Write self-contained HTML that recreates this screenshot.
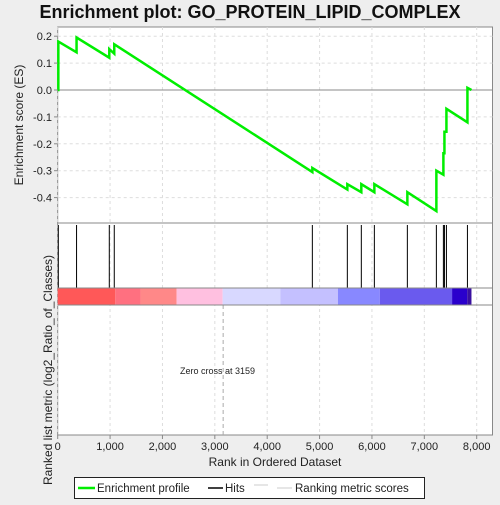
<!DOCTYPE html>
<html><head><meta charset="utf-8"><style>
body{margin:0;background:#eeeeee;font-family:"Liberation Sans",sans-serif}
svg text{font-family:"Liberation Sans",sans-serif}
</style></head><body>
<svg width="500" height="500">
<rect x="0" y="0" width="500" height="500" fill="#eeeeee"/>
<text x="250" y="18" text-anchor="middle" font-size="18" font-weight="bold" fill="#111">Enrichment plot: GO_PROTEIN_LIPID_COMPLEX</text>
<rect x="57.7" y="27" width="434.8" height="408" fill="#fff" stroke="#888"/>
<g id="grid"></g>
<g id="colorbar"></g>
<g id="hits"></g>
<g id="es"></g>
<g id="axes"></g>
<line x1="57.7" y1="223" x2="492.5" y2="223" stroke="#888"/>
<line x1="57.7" y1="288" x2="492.5" y2="288" stroke="#888"/>
<line x1="57.7" y1="305" x2="492.5" y2="305" stroke="#888"/>
<text x="180" y="374" font-size="9" fill="#222">Zero cross at 3159</text>
<text transform="translate(23,125) rotate(-90)" text-anchor="middle" font-size="12" fill="#222">Enrichment score (ES)</text>
<text transform="translate(52,370) rotate(-90)" text-anchor="middle" font-size="12" fill="#222">Ranked list metric (log2_Ratio_of_Classes)</text>
<text x="275" y="466" text-anchor="middle" font-size="12" fill="#222">Rank in Ordered Dataset</text>
<g>
<rect x="74.5" y="477.5" width="350" height="21" fill="#fff" stroke="#222"/>
<line x1="78" y1="488" x2="95" y2="488" stroke="#00ee00" stroke-width="2.5"/>
<text x="97" y="492" font-size="11.5" fill="#222">Enrichment profile</text>
<line x1="208" y1="488" x2="223" y2="488" stroke="#000" stroke-width="1.5"/>
<text x="225" y="492" font-size="11.5" fill="#222">Hits</text>
<line x1="254" y1="485" x2="268" y2="485" stroke="#ccc"/>
<line x1="277" y1="488" x2="292" y2="488" stroke="#ccc"/>
<text x="295" y="492" font-size="11.5" fill="#222">Ranking metric scores</text>
</g>
</svg>
<script>
const xTicks=[0,1000,2000,3000,4000,5000,6000,7000,8000];
const yTicks=[0.2,0.1,0.0,-0.1,-0.2,-0.3,-0.4];
const hitRanks=[12,360,985,1080,4862,5530,5797,6046,6676,7230,7364,7384,7422,7823];
const esBefore=[0,0.14,0.12,0.135,-0.305,-0.37,-0.38,-0.38,-0.425,-0.45,-0.315,-0.235,-0.155,-0.12];
const esAfter=[0.18,0.195,0.152,0.17,-0.29,-0.35,-0.35,-0.35,-0.38,-0.30,-0.235,-0.155,-0.07,0.008];
const totalRanks=7900;
const barStops=[0,1100,1580,2270,3150,4250,5350,6150,7530,7820,7900];
const barColors=["#ff5858","#ff7080","#ff8888","#ffc0e0","#d8d8ff","#c4c0ff","#8888ff","#6a5aee","#2a00cc","#3a10a0"];
const NS="http://www.w3.org/2000/svg";
const X=r=>57.7+r*(476.7-57.7)/8000;
const Y=v=>90-v*269;
function mk(t,a,p){const e=document.createElementNS(NS,t);for(const k in a)e.setAttribute(k,a[k]);document.getElementById(p).appendChild(e);return e;}
xTicks.forEach(t=>{
 const g=mk('line',{x1:X(t),x2:X(t),y1:27,y2:435,stroke:'#ddd','stroke-dasharray':'3,3'},'grid');
 
 
 const tl=mk('text',{x:X(t),y:450,'text-anchor':'middle','font-size':'11',fill:'#222'},'axes');
 tl.textContent=t.toLocaleString('en-US');
 
 
 mk('line',{x1:X(t),x2:X(t),y1:435,y2:439,stroke:'#888'},'axes');
});
yTicks.forEach(t=>{
 if(t!==0){const g=mk('line',{x1:57.7,x2:492.5,y1:Y(t),y2:Y(t),stroke:'#ddd','stroke-dasharray':'3,3'},'grid');
 
 }
 const tl=mk('text',{x:52,y:Y(t)+4,'text-anchor':'end','font-size':'11',fill:'#222'},'axes');
 tl.textContent=t.toFixed(1);
 
 
 mk('line',{x1:54,x2:57.7,y1:Y(t),y2:Y(t),stroke:'#888'},'axes');
});
const z=mk('line',{x1:57.7,x2:492.5,y1:Y(0),y2:Y(0),stroke:'#888'},'grid');


const zc=mk('line',{x1:X(3159),x2:X(3159),y1:305,y2:435,stroke:'#aaa','stroke-dasharray':'4,3'},'grid');


for(let i=0;i<barColors.length;i++){
 const r=mk('rect',{x:X(barStops[i]),y:288,width:X(barStops[i+1])-X(barStops[i]),height:17,fill:barColors[i]},'colorbar');
 
 
}
hitRanks.forEach(h=>{
 const l=mk('line',{x1:X(h),x2:X(h),y1:225,y2:288,stroke:'#000','stroke-width':1},'hits');
 
 
});
let pts=[[0,0]];
hitRanks.forEach((h,i)=>{pts.push([h,esBefore[i]]);pts.push([h,esAfter[i]]);});
pts.push([totalRanks,0]);
const pl=mk('polyline',{points:pts.map(p=>X(p[0])+','+Y(p[1])).join(' '),fill:'none',stroke:'#00ee00','stroke-width':2.5},'es');


</script>
</body></html>
